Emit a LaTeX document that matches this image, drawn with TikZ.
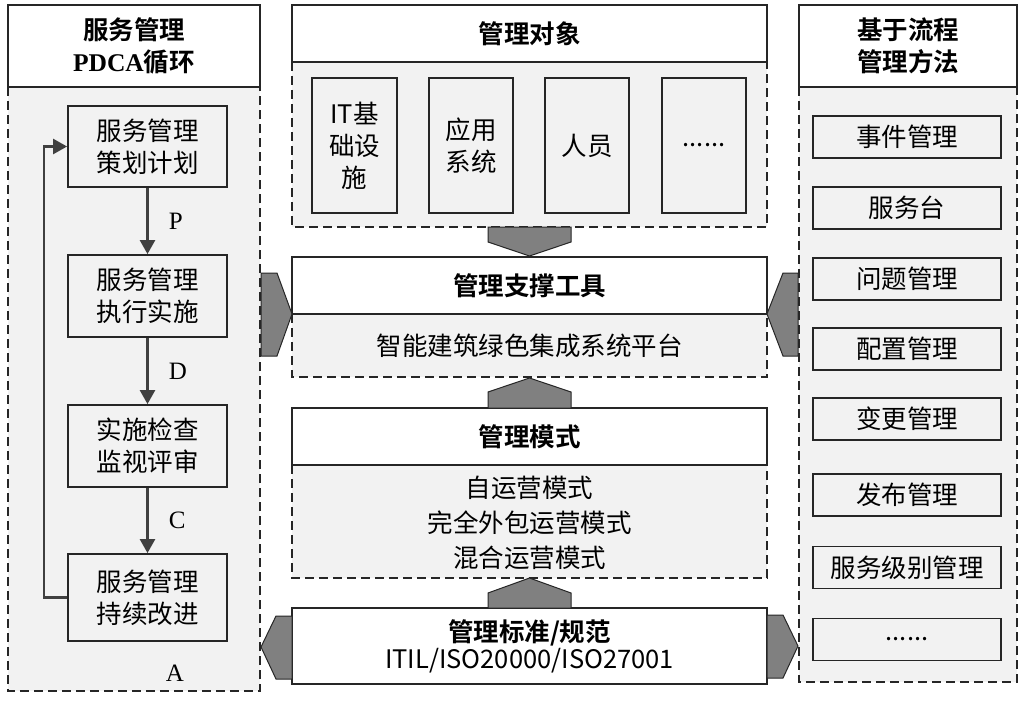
\documentclass[tikz,border=0pt]{standalone}
\usepackage{fontspec}
\setmainfont{Noto Sans CJK SC}[BoldFont={Noto Sans CJK SC Bold}]
\newfontfamily\latinserif{Liberation Serif}
\usetikzlibrary{arrows.meta, positioning}
\definecolor{panelgray}{HTML}{F2F2F2}
\definecolor{boxline}{HTML}{262626}
\definecolor{arrowgray}{HTML}{808080}
\definecolor{flowgray}{HTML}{404040}
\newcommand{\sixdots}{......}
\tikzstyle{base}=[font=\fontsize{25.5pt}{32pt}\selectfont, align=center, inner sep=0pt]
\tikzstyle{headbox}=[base, draw=boxline, line width=1.5pt, fill=white, font=\fontsize{25.5pt}{32pt}\selectfont\bfseries]
\tikzstyle{itembox}=[base, draw=boxline, line width=1.8pt, fill=panelgray]
\tikzstyle{panel}=[fill=panelgray, draw=boxline, dash pattern=on 9pt off 5pt, line width=1.3pt]
\tikzstyle{bigarrow}=[fill=arrowgray, draw=boxline, line width=1pt, line join=miter]
\tikzstyle{flow}=[draw=flowgray, line width=2.5pt, -{Triangle[length=14pt, width=15pt]}]
\tikzstyle{steplabel}=[font=\fontsize{25pt}{30pt}\latinserif, inner sep=0pt]

\begin{document}
\begin{tikzpicture}[x=1pt, y=-1pt]
	\useasboundingbox (0,0) rectangle (1026,717);

	% left column: PDCA
	\filldraw[panel] (8,87) rectangle (260,691);
	\node[headbox, minimum width=252pt, minimum height=82pt] (pdcaHead) at (134,46)
		{服务管理\\{\latinserif\bfseries PDCA}循环};
	\node[itembox, minimum width=159pt, minimum height=81pt] (plan) at (147.5,146.5) {服务管理\\策划计划};
	\node[itembox, minimum width=159pt, minimum height=82pt] (do) at (147.5,296) {服务管理\\执行实施};
	\node[itembox, minimum width=159pt, minimum height=82pt] (check) at (147.5,446) {实施检查\\监视评审};
	\node[itembox, minimum width=159pt, minimum height=87pt] (act) at (147.5,597.5) {服务管理\\持续改进};
	\draw[flow] (plan) -- node[steplabel, right=20pt] {P} (do);
	\draw[flow] (do) -- node[steplabel, right=20pt] {D} (check);
	\draw[flow] (check) -- node[steplabel, right=20pt] {C} (act);
	\draw[flow] (act.west) -- ++(-23,0) |- (plan.west);
	\node[steplabel] (actLabel) at (175,673) {A};

	% middle column
	\filldraw[panel] (292,62) rectangle (767,227);
	\node[headbox, minimum width=475pt, minimum height=57pt] (objHead) at (529.5,33.5) {管理对象};
	\node[itembox, minimum width=85pt, minimum height=135pt] (infra) at (354.5,145.5) {IT基\\础设\\施};
	\node[itembox, minimum width=84pt, minimum height=135pt] (apps) at (471,145.5) {应用\\系统};
	\node[itembox, minimum width=84pt, minimum height=135pt] (staff) at (587,145.5) {人员};
	\node[itembox, minimum width=84pt, minimum height=135pt] (more) at (704,145.5) {\sixdots};

	\filldraw[panel] (292,314) rectangle (767,377);
	\node[headbox, minimum width=475pt, minimum height=57pt] (toolHead) at (529.5,285.5) {管理支撑工具};
	\node[base] (toolText) at (529.5,346) {智能建筑绿色集成系统平台};

	\filldraw[panel] (292,465) rectangle (767,578);
	\node[headbox, minimum width=475pt, minimum height=57pt] (modeHead) at (529.5,436.5) {管理模式};
	\node[base, font=\fontsize{25.5pt}{35pt}\selectfont] (modeText) at (529.5,523)
		{自运营模式\\完全外包运营模式\\混合运营模式};

	\node[headbox, font=\fontsize{25.5pt}{27pt}\selectfont, minimum width=475pt, minimum height=76pt] (stdBox) at (529.5,646)
		{{\bfseries 管理标准/规范}\\ITIL/ISO20000/ISO27001};

	% big arrows
	\filldraw[bigarrow] (488,227) -- (571,227) -- (571,242) -- (529.5,256) -- (488,242) -- cycle;
	\filldraw[bigarrow] (488,408) -- (571,408) -- (571,392) -- (529.5,378) -- (488,392) -- cycle;
	\filldraw[bigarrow] (488,608) -- (571,608) -- (571,593) -- (529.5,578) -- (488,593) -- cycle;
	\filldraw[bigarrow] (261,273) -- (277,273) -- (292,314) -- (277,356) -- (261,356) -- cycle;
	\filldraw[bigarrow] (798,273) -- (783,273) -- (767,314) -- (783,356) -- (798,356) -- cycle;
	\filldraw[bigarrow] (292,616) -- (276,616) -- (261,647) -- (276,679) -- (292,679) -- cycle;
	\filldraw[bigarrow] (767,615) -- (783,615) -- (798,646) -- (783,678) -- (767,678) -- cycle;

	% right column: processes
	\filldraw[panel] (799,87) rectangle (1017,682);
	\node[headbox, minimum width=218pt, minimum height=82pt] (methodHead) at (908,46) {基于流程\\管理方法};
	\foreach \name/\y/\txt in {incident/137/事件管理, desk/208/服务台, problem/279/问题管理,
		config/349/配置管理, change/419/变更管理, release/495/发布管理,
		level/567.5/服务级别管理, etc/639.5/\sixdots}
		\node[itembox, minimum width=188pt, minimum height=42pt] (\name) at (907,\y) {\txt};
\end{tikzpicture}
\end{document}
